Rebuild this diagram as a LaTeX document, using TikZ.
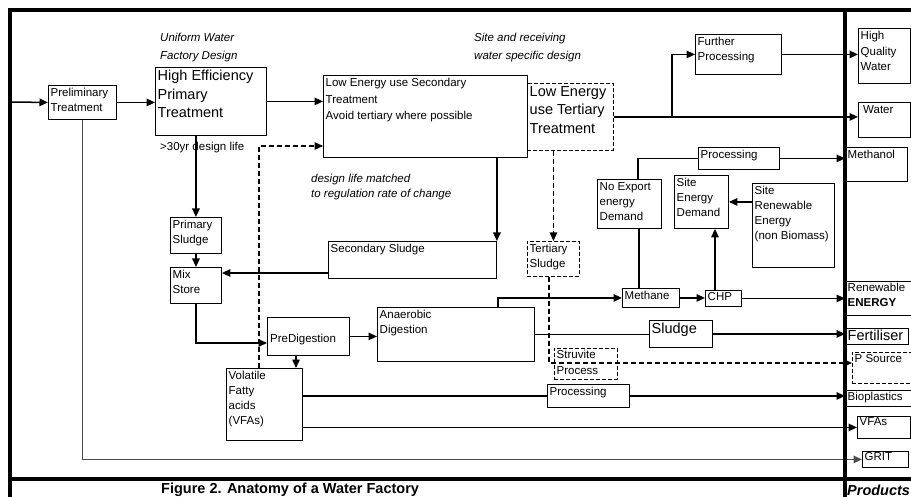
\documentclass[tikz,border=0pt]{standalone}
\usepackage{fontspec}
\setmainfont{Liberation Sans}
\usetikzlibrary{arrows.meta}

\newcommand{\smalltxt}{\fontsize{11.5}{15}\selectfont}
\newcommand{\bigtxt}{\fontsize{14.5}{18.5}\selectfont}

\begin{document}
\begin{tikzpicture}[
		x=1pt, y=-1pt,
		every node/.style={rectangle, inner sep=0pt, font=\smalltxt},
		box/.style={draw, line width=0.9pt, anchor=north west},
		dbox/.style={box, dash pattern=on 4pt off 2pt},
		txt/.style={anchor=north west, inner xsep=2.5pt, inner ysep=3pt, align=left},
		note/.style={anchor=west, align=left, font=\fontsize{11.5}{18}\selectfont\itshape},
		flow/.style={line width=1.5pt, -{Triangle[length=8.5pt, width=7.5pt]}},
		link/.style={line width=1.5pt},
		dflow/.style={flow, line width=1.2pt, dash pattern=on 5pt off 3pt},
		frame/.style={line width=4pt}
	]
  \useasboundingbox (0,0) rectangle (911,497);

  % treatment line
  \node (prelim) [box, minimum width=68, minimum height=34, label={[txt]north west:{Preliminary\\Treatment}}] at (48,85) {};
  \node (hept) [box, minimum width=111, minimum height=68, label={[txt, font=\bigtxt]north west:{High Efficiency\\Primary\\Treatment}}] at (155,67) {};
  \node (les) [box, minimum width=204, minimum height=82, label={[txt, font=\fontsize{11.5}{16.5}\selectfont]north west:{Low Energy use Secondary\\Treatment\\Avoid tertiary where possible}}] at (323,75) {};
  \node (let) [dbox, minimum width=86, minimum height=67, label={[txt, font=\bigtxt]north west:{Low Energy\\use Tertiary\\Treatment}}] at (527,83) {};
  \node (fp) [box, minimum width=86, minimum height=40, label={[txt]north west:{Further\\Processing}}] at (695,34) {};

  % energy
  \node (proc1) [box, minimum width=81, minimum height=22, label={[txt]north west:Processing}] at (698,147) {};
  \node (noexp) [box, minimum width=64, minimum height=49, label={[txt]north west:{No Export\\energy\\Demand}}] at (597,179) {};
  \node (sed) [box, minimum width=54, minimum height=53, label={[txt]north west:{Site\\Energy\\Demand}}] at (674,175) {};
  \node (sre) [box, minimum width=82, minimum height=84, label={[txt]north west:{Site\\Renewable\\Energy\\(non Biomass)}}] at (752,183) {};
  \node (methane) [box, minimum width=57, minimum height=19, label={[txt]north west:Methane}] at (622,288) {};
  \node (chp) [box, minimum width=36, minimum height=16, label={[txt, inner ysep=2pt]north west:CHP}] at (705,290) {};

  % sludge line
  \node (ps) [box, minimum width=51, minimum height=36, label={[txt]north west:{Primary\\Sludge}}] at (170,217) {};
  \node (mix) [box, minimum width=51, minimum height=36, label={[txt]north west:{Mix\\Store}}] at (170,267) {};
  \node (ss) [box, minimum width=168, minimum height=37, label={[txt]north west:Secondary Sludge}] at (328,241) {};
  \node (ts) [dbox, minimum width=52, minimum height=35, label={[txt]north west:{Tertiary\\Sludge}}] at (527,241) {};
  \node (predig) [box, minimum width=82, minimum height=38, label={[anchor=west, inner xsep=3pt, yshift=-3pt]west:PreDigestion}] at (267,317) {};
  \node (ad) [box, minimum width=157, minimum height=54, label={[txt]north west:{Anaerobic\\Digestion}}] at (377,307) {};
  \node (sludge) [box, minimum width=63, minimum height=27, label={[txt, font=\bigtxt]north west:Sludge}] at (649,320) {};
  \node (struv) [dbox, minimum width=63, minimum height=31, label={[txt, inner ysep=1.5pt, font=\fontsize{11.5}{16}\selectfont]north west:{Struvite\\Process}}] at (554,348) {};
  \node (vfa) [box, minimum width=76, minimum height=72, label={[txt]north west:{Volatile\\Fatty\\acids\\(VFAs)}}] at (226,368) {};
  \node (proc2) [box, minimum width=82, minimum height=23, label={[txt]north west:Processing}] at (547,384) {};

  % products
  \node (hqw) [box, minimum width=52, minimum height=55, label={[txt, font=\fontsize{11.5}{15.5}\selectfont]north west:{High\\Quality\\Water}}] at (858,28) {};
  \node (water) [box, minimum width=52, minimum height=35, label={[txt, inner xsep=5pt]north west:Water}] at (858,102) {};
  \node (methanol) [box, minimum width=62, minimum height=34, label={[txt]north west:Methanol}] at (845,147) {};
  \node (renew) [box, minimum width=66, minimum height=34, label={[txt, inner ysep=2pt]north west:{Renewable\\\textbf{ENERGY}}}] at (845,281) {};
  \node (fert) [box, minimum width=63, minimum height=16, label={[txt, inner ysep=1.5pt, font=\bigtxt]north west:Fertiliser}] at (845,328) {};
  \node (psource) [dbox, minimum width=60, minimum height=31, label={[txt, inner ysep=2pt]north west:P Source}] at (852,352) {};
  \node (bio) [box, minimum width=66, minimum height=16, label={[txt, inner ysep=2pt]north west:Bioplastics}] at (845,390) {};
  \node (vfas) [box, minimum width=53, minimum height=22, label={[txt, inner ysep=1.5pt]north west:VFAs}] at (857,416) {};
  \node (grit) [box, minimum width=46, minimum height=16, label={[txt, inner ysep=1.5pt]north west:GRIT}] at (862,451) {};

  % notes
  \node (uniform) [note] at (160,48) {Uniform Water\\Factory Design};
  \node (site) [note] at (474,48) {Site and receiving\\water specific design};
  \node (life) [note, font=\smalltxt] at (160,148) {>30yr design life};
  \node (matched) [note, font=\smalltxt\itshape] at (311,187.5) {design life matched\\to regulation rate of change};
  \node (caption) [anchor=west, font=\fontsize{14.5}{17}\selectfont\bfseries] at (161,490) {Figure 2. Anatomy of a Water Factory};
  \node (products) [anchor=west, font=\fontsize{14.5}{17}\selectfont\bfseries\itshape] at (847,490) {Products};

  \coordinate (inlet) at (10,102);
  \coordinate (dashturn) at (259,146);
  \coordinate (ssout) at (328,273);
  \coordinate (mixturn) at (196,343);
  \coordinate (pturn) at (549,363);
  \coordinate (fpturn) at (672,0);
  \coordinate (vfadrop) at ([xshift=29pt]predig.south west);
  \coordinate (gasup) at ([xshift=121pt]ad.north west);
  \coordinate (chpup) at ([xshift=10pt]chp.north west);
  \coordinate (noexpdown) at ([xshift=17pt]methane.north west);
  \coordinate (noexpup) at ([xshift=41pt]noexp.north west);

  % water
  \draw[flow] (inlet) -- (prelim.west);
  \draw[flow] (prelim.east) -- (prelim.east -| hept.west);
  \draw[flow] (hept.east) -- (hept.east -| les.west);
  \draw[flow] (let.east) -- (let.east -| water.west);
  \draw[flow] (let.east -| fpturn) |- (fp.west);
  \draw[flow] (fp.east) -- (fp.east -| hqw.west);
  \draw[dflow] (vfa.north -| dashturn) -- (dashturn) -- (dashturn -| les.west);

  % sludge
  \draw[flow] (ps.north |- hept.south) -- (ps.north);
  \draw[flow] (ps.south) -- (mix.north);
  \draw[flow] (ss.north east |- les.south) -- (ss.north east);
  \draw[flow] (ssout) -- (ssout -| mix.east);
  \draw[flow] (mix.south) |- (mixturn -| predig.west);
  \draw[flow] (predig.east) -- (predig.east -| ad.west);
  \draw[flow] (vfadrop) -- (vfadrop |- vfa.north);
  \draw[dflow] (ts.north |- let.south) -- (ts.north);
  \draw[dflow] (ts.south -| pturn) -- (pturn) -- (pturn -| psource.west);
  \draw[link] (ad.east) -- (ad.east -| sludge.west);
  \draw[flow] (sludge.east) -- (sludge.east -| fert.west);

  % energy
  \draw[flow] (gasup) |- (methane.west);
  \draw[flow] (methane.east) -- (methane.east -| chp.west);
  \draw[flow] (chp.east) -- (chp.east -| renew.west);
  \draw[flow] (chpup) -- (chpup |- sed.south);
  \draw[flow] (sed.east -| sre.west) -- (sed.east);
  \draw[link] (noexpdown) -- (noexpdown |- noexp.south);
  \draw[link] (noexpup) |- (proc1.west);
  \draw[flow] (proc1.east) -- (proc1.east -| methanol.west);

  % vfa and grit
  \draw[link] (proc2.west -| vfa.east) -- (proc2.west);
  \draw[flow] (proc2.east) -- (proc2.east -| bio.west);
  \draw[flow] (vfas.west -| vfa.east) -- (vfas.west);
  \draw[flow, black!70] (prelim.south) |- (grit.west);

  % frame
  \draw[frame] (10,497) -- (10,10) -- (913,10);
  \draw[frame] (845,10) -- (845,497);
  \draw[frame] (10,479) -- (913,479);
\end{tikzpicture}
\end{document}
